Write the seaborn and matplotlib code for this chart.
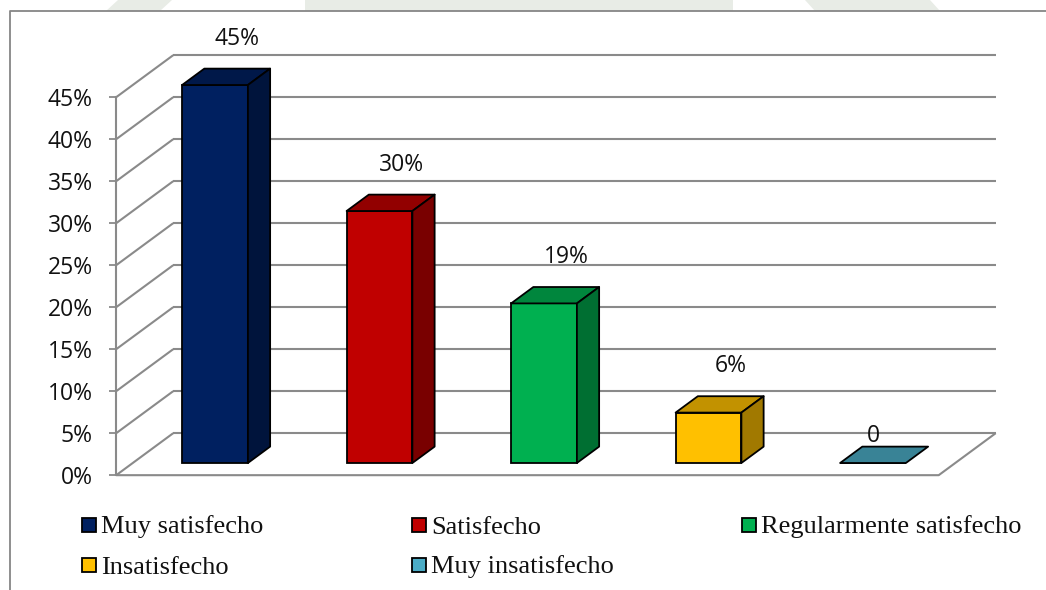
import numpy as np
import pandas as pd
import matplotlib
matplotlib.use("Agg")
import matplotlib.pyplot as plt
from matplotlib.patches import Polygon, Rectangle
from matplotlib.lines import Line2D
from matplotlib.colors import to_rgb
import seaborn as sns

# ---- data -------------------------------------------------------------
categories = ["Muy satisfecho", "Satisfecho", "Regularmente satisfecho",
              "Insatisfecho", "Muy insatisfecho"]
values = [45, 30, 19, 6, 0]
value_labels = ["45%", "30%", "19%", "6%", "0"]
tick_values = [0, 5, 10, 15, 20, 25, 30, 35, 40, 45]
tick_labels = ["0%", "5%", "10%", "15%", "20%", "25%", "30%", "35%", "40%", "45%"]
colors = ["#002060", "#C00000", "#00B050", "#FFC000", "#4BACC6"]

# ---- style ------------------------------------------------------------
sns.set_theme(style="white")
plt.rcParams["font.family"] = ["Open Sans", "DejaVu Sans"]

W, H = 1046, 590
fig = plt.figure(figsize=(W / 100, H / 100), dpi=100)
fig.patch.set_facecolor("white")


def fx(x):
    return x / W


def fy(y):
    return 1 - y / H


GRID = "#8a8a8a"

# faint emblem shapes peeking above the chart frame
for xs in ([(118, 0), (172, 0), (160, 11), (106, 11)],
           [(305, 0), (733, 0), (733, 11), (305, 11)],
           [(805, 0), (930, 0), (940, 11), (815, 11)]):
    fig.add_artist(Polygon([(fx(a), fy(b)) for a, b in xs], closed=True,
                           transform=fig.transFigure, facecolor="#e8ece6",
                           edgecolor="none", zorder=-1))

# chart frame (top and left borders)
fig.add_artist(Line2D([fx(10), fx(10), fx(W)], [0, fy(11), fy(11)],
                      transform=fig.transFigure, color="#868686", lw=1.3, zorder=-0.5))

# ---- axes: front plane of the bars is the data plane -----------------
ax = fig.add_axes([0, 0, 1, 1])
ax.set_zorder(1)
ax.patch.set_visible(False)

df = pd.DataFrame({"cat": categories, "val": values})
sns.barplot(data=df, x="cat", y="val", hue="cat", order=categories,
            hue_order=categories, palette=colors, saturation=1, width=0.4,
            edgecolor="black", linewidth=1.3, legend=False, ax=ax, zorder=3)

# depth vector of the whole floor (category units, percent units)
DX, DY = 0.3465, 5.0
D_FRONT, D_BACK, D_BAR = -0.29, 0.71, 0.39
X0, X1 = -0.5, len(categories) - 0.5


def proj(x, p, d):
    return x + d * DX, p + d * DY


def seg(points, **kw):
    xs, ys = zip(*[proj(*pt) for pt in points])
    ax.plot(xs, ys, color=GRID, lw=1.5, solid_capstyle="butt", **kw)


# back wall gridlines and left wall diagonals
for t in tick_values:
    seg([(X0, t, D_BACK), (X1, t, D_BACK)], zorder=1)
    seg([(X0, t, D_FRONT), (X0, t, D_BACK)], zorder=1)
# floor outline
seg([(X0, 0, D_FRONT), (X1, 0, D_FRONT), (X1, 0, D_BACK)], zorder=1)


def shade(c, k):
    r, g, b = to_rgb(c)
    return (r * k, g * k, b * k)


# top and side faces of each bar
bars = sorted([p for p in ax.patches if isinstance(p, Rectangle)], key=lambda p: p.get_x())
for bar, col, lab, v in zip(bars, colors, value_labels, values):
    x, w, h = bar.get_x(), bar.get_width(), bar.get_height()
    dx, dy = D_BAR * DX, D_BAR * DY
    top = [(x, h), (x + w, h), (x + w + dx, h + dy), (x + dx, h + dy)]
    ax.add_patch(Polygon(top, closed=True, facecolor=shade(col, 0.76),
                         edgecolor="black", lw=1.3, zorder=4, joinstyle="round"))
    if h > 0:
        side = [(x + w, 0), (x + w + dx, dy), (x + w + dx, h + dy), (x + w, h)]
        ax.add_patch(Polygon(side, closed=True, facecolor=shade(col, 0.63),
                             edgecolor="black", lw=1.3, zorder=4, joinstyle="round"))
        lx, ly = x + w / 2 + dx, h + 5.5
    else:
        lx, ly = x + w / 2, h + 3.2
    ax.text(lx, ly, lab, ha="center", va="center", fontsize=16.5,
            color="#111111", zorder=6)

# front value axis
front_x = X0 + D_FRONT * DX
off = D_FRONT * DY
for s in ["top", "right", "bottom"]:
    ax.spines[s].set_visible(False)
ax.spines["left"].set_position(("data", front_x))
ax.spines["left"].set_bounds(tick_values[0] + off, tick_values[-1] + off)
ax.spines["left"].set_color(GRID)
ax.spines["left"].set_linewidth(1.5)
ax.set_yticks([t + off for t in tick_values])
ax.set_yticklabels(tick_labels)
ax.tick_params(axis="y", direction="out", length=5, width=1.3, color=GRID,
               pad=12, labelsize=16.5, labelcolor="#111111", left=True)
ax.set_xticks([])
ax.set_xlabel("")
ax.set_ylabel("")

# map data so the chart sits where it should on the page
ax.set_xlim(-215 / 164.5, (W - 215) / 164.5)
ax.set_ylim((463 - H) / 8.4, 463 / 8.4)

# ---- legend -----------------------------------------------------------
col_x = [82, 412, 742]
row_y = [525, 565]
for i, (name, col) in enumerate(zip(categories, colors)):
    r, c = divmod(i, 3)
    mx, my = col_x[c], row_y[r]
    fig.add_artist(Rectangle((fx(mx), fy(my + 7)), 14 / W, 14 / H,
                             transform=fig.transFigure, facecolor=col,
                             edgecolor="black", lw=1.3, zorder=5))
    fig.text(fx(mx + 19), fy(my + 8.5), name, ha="left", va="baseline",
             fontsize=19, family=["Liberation Serif", "DejaVu Serif"], color="#111111")

fig.savefig("out.png", dpi=100)
